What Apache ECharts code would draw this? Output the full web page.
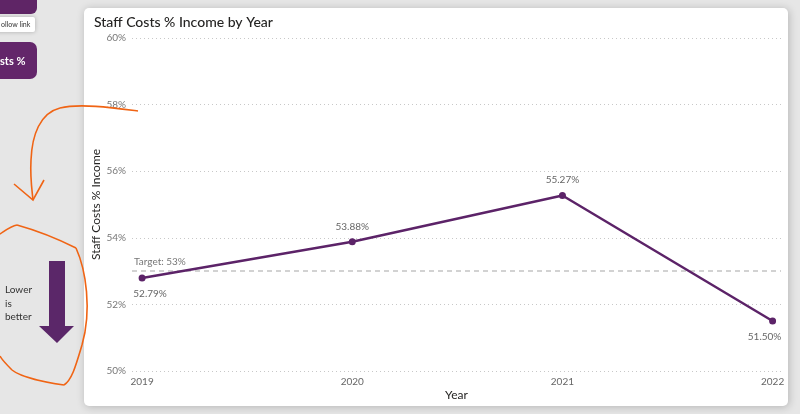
<!DOCTYPE html>
<html>
<head>
<meta charset="utf-8">
<script src="https://cdn.jsdelivr.net/npm/echarts@6/dist/echarts.min.js"></script>
<style>
  html, body { margin: 0; padding: 0; background: #e6e6e6; }
  #chart { width: 800px; height: 414px; }
</style>
</head>
<body>
<div id="chart"></div>
<script>
const years = [2019, 2020, 2021, 2022];
const staffCostPct = [52.79, 53.88, 55.27, 51.50];
const targetPct = 53;
const yTickValues = [50, 52, 54, 56, 58, 60];

const purple = '#5c2368';
const orange = '#f06414';
const fontMain = 'Lato, "Open Sans", sans-serif';

const seriesData = years.map((y, i) => {
  const below = (i === 0 || i === years.length - 1);
  let offX = 0;
  if (i === 0) offX = 8;
  if (i === years.length - 1) offX = -8;
  return {
    value: [y, staffCostPct[i]],
    label: { position: below ? 'bottom' : 'top', offset: [offX, 0] }
  };
});

function curve(x1, y1, cx1, cy1, cx2, cy2, x2, y2) {
  return { type: 'bezierCurve', z: 100,
    shape: { x1: x1, y1: y1, cpx1: cx1, cpy1: cy1, cpx2: cx2, cpy2: cy2, x2: x2, y2: y2 },
    style: { fill: 'none', stroke: orange, lineWidth: 1.6 } };
}

const chart = echarts.init(document.getElementById('chart'), null, { renderer: 'canvas' });

const option = {
  backgroundColor: '#e6e6e6',
  animation: false,
  title: {
    text: 'Staff Costs % Income by Year',
    left: 89, top: 10,
    textStyle: { fontFamily: fontMain, fontSize: 14, fontWeight: 500, color: '#252423' }
  },
  grid: { left: 132, right: 19, top: 38, bottom: 43 },
  xAxis: {
    type: 'value',
    min: 2018.952,
    max: 2022.04,
    name: 'Year',
    nameLocation: 'middle',
    nameGap: 18,
    nameMoveOverlap: false,
    nameTextStyle: { fontFamily: fontMain, fontSize: 12, color: '#252423' },
    axisLine: { show: false },
    axisTick: { show: false },
    splitLine: { show: false },
    axisLabel: {
      customValues: years,
      formatter: v => String(v),
      color: '#666', fontSize: 10, fontFamily: fontMain, margin: 6
    }
  },
  yAxis: {
    type: 'value',
    min: yTickValues[0],
    max: yTickValues[yTickValues.length - 1],
    interval: 2,
    name: 'Staff Costs % Income',
    nameLocation: 'middle',
    nameGap: 30,
    nameMoveOverlap: false,
    nameTextStyle: { fontFamily: fontMain, fontSize: 12, color: '#252423' },
    axisLine: { show: false },
    axisTick: { show: false },
    axisLabel: { formatter: '{value}%', color: '#777', fontSize: 10, fontFamily: fontMain, margin: 6 },
    splitLine: { show: true, lineStyle: { type: [1, 3], color: '#c8c8c8', width: 1 } }
  },
  series: [{
    type: 'line',
    data: seriesData,
    symbol: 'circle',
    symbolSize: 7,
    itemStyle: { color: purple },
    lineStyle: { color: purple, width: 2.5 },
    label: {
      show: true,
      formatter: p => p.value[1].toFixed(2) + '%',
      color: '#666', fontSize: 10, fontFamily: fontMain, distance: 7
    },
    markLine: {
      silent: true,
      symbol: 'none',
      data: [{ yAxis: targetPct }],
      lineStyle: { type: [5, 4], color: '#d2d2d2', width: 2 },
      label: {
        show: true,
        position: 'insideStartTop',
        formatter: 'Target: ' + targetPct + '%',
        color: '#777', fontSize: 10, fontFamily: fontMain, distance: [2, 4]
      }
    },
    z: 5
  }],
  graphic: [
    // card
    { type: 'rect', z: -10, shape: { x: 84, y: 8, width: 704, height: 398, r: 5 },
      style: { fill: '#ffffff', shadowBlur: 8, shadowColor: 'rgba(0,0,0,0.22)', shadowOffsetX: 1, shadowOffsetY: 1 } },
    // top-left button
    { type: 'rect', z: 50, shape: { x: -10, y: -10, width: 47, height: 24, r: 6 }, style: { fill: '#5f2566' } },
    { type: 'rect', z: 51, shape: { x: -6, y: 17, width: 41, height: 15, r: 2 },
      style: { fill: '#ffffff', shadowBlur: 4, shadowColor: 'rgba(0,0,0,0.25)' } },
    { type: 'text', z: 52, style: { x: 1, y: 25, text: 'ollow link', fill: '#333', font: '7px ' + fontMain, verticalAlign: 'middle' } },
    // second button
    { type: 'rect', z: 50, shape: { x: -10, y: 42, width: 47, height: 37, r: 7 }, style: { fill: '#63266a' } },
    { type: 'text', z: 52, style: { x: 0, y: 61, text: 'sts %', fill: '#ffffff', font: 'bold 11px ' + fontMain, verticalAlign: 'middle' } },
    // orange curved arrow
    curve(138, 111, 115, 108, 80, 103, 60, 108),
    curve(60, 108, 40, 113, 32, 135, 31, 160),
    curve(31, 160, 30, 178, 32, 190, 33, 200),
    { type: 'polyline', z: 100, shape: { points: [[14, 184], [33, 200], [44, 180]] },
      style: { fill: 'none', stroke: orange, lineWidth: 1.6 } },
    // orange loop
    curve(0, 234, 6, 230, 11, 226, 17, 225),
    curve(17, 225, 35, 230, 60, 240, 76, 248),
    curve(76, 248, 86, 270, 92, 310, 82, 345),
    curve(82, 345, 76, 365, 72, 380, 64, 385),
    curve(64, 385, 45, 382, 22, 378, 12, 370),
    curve(12, 370, 6, 364, 2, 360, 0, 356),
    // lower is better
    { type: 'text', z: 100, style: { x: 5, y: 290, text: 'Lower', fill: '#333', font: '10px ' + fontMain, verticalAlign: 'middle' } },
    { type: 'text', z: 100, style: { x: 5, y: 304, text: 'is', fill: '#333', font: '10px ' + fontMain, verticalAlign: 'middle' } },
    { type: 'text', z: 100, style: { x: 5, y: 317, text: 'better', fill: '#333', font: '10px ' + fontMain, verticalAlign: 'middle' } },
    // purple down arrow
    { type: 'polygon', z: 100, shape: { points: [[49, 261], [65, 261], [65, 326], [74, 326], [57, 343], [39, 326], [49, 326]] },
      style: { fill: '#5b2769' } }
  ]
};

chart.setOption(option);
</script>
</body>
</html>
